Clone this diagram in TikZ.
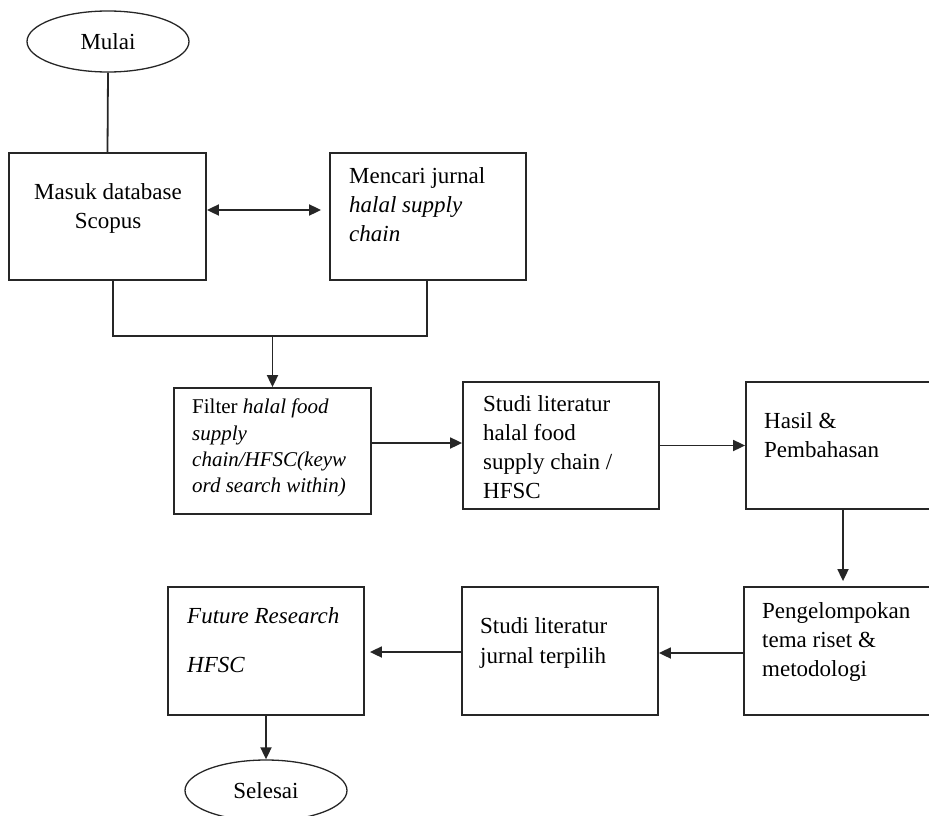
\documentclass[tikz,border=0pt]{standalone}
\usepackage{fontspec}
\setmainfont{Liberation Serif}
\usetikzlibrary{arrows.meta,shapes.geometric,calc}
\begin{document}
\begin{tikzpicture}[x=1pt,y=-1pt,
  box/.style={draw=black!85, line width=1.8pt, rectangle, inner sep=0pt},
  term/.style={draw=black!85, line width=1.3pt, ellipse, minimum width=162pt, minimum height=61pt, inner sep=0pt, font=\fontsize{23}{28}\selectfont},
  txt/.style={anchor=north west, align=left, inner sep=0pt, font=\fontsize{23}{29}\selectfont},
  conn/.style={line width=1.8pt, draw=black!85},
  tip/.tip={Triangle[length=12pt,width=11pt]},
  arr/.style={conn, -tip}
]
\useasboundingbox (0,0) rectangle (929,816);

% terminals
\node[term] (mulai) at (108,41.5) {Mulai};
\node[term] (selesai) at (266,790.5) {Selesai};

% boxes
\node[box, minimum width=197pt, minimum height=127pt] (b1) at (107.5,216.5) {};
\node[box, minimum width=196pt, minimum height=127pt] (b2) at (428,216.5) {};
\node[box, minimum width=197pt, minimum height=126pt] (b3) at (272.5,451) {};
\node[box, minimum width=196pt, minimum height=127pt] (b4) at (561,445.5) {};
\node[box, minimum width=204pt, minimum height=127pt] (b5) at (848,445.5) {};
\node[box, minimum width=206pt, minimum height=128pt] (b6) at (847,651) {};
\node[box, minimum width=196pt, minimum height=128pt] (b7) at (560,651) {};
\node[box, minimum width=196pt, minimum height=128pt] (b8) at (266,651) {};

% texts
\node[txt, anchor=north, align=center] (t1) at (108,183) {Masuk database\\Scopus};
\node[txt] (t2) at (349,167) {Mencari jurnal\\\textit{halal supply}\\\textit{chain}};
\node[txt, font=\fontsize{21}{26.3}\selectfont] (t3) at (192,399) {Filter \textit{halal food}\\\textit{supply}\\\textit{chain/HFSC(keyw}\\\textit{ord search within)}};
\node[txt] (t4) at (483,395) {Studi literatur\\halal food\\supply chain /\\HFSC};
\node[txt] (t5) at (764,412) {Hasil \&\\Pembahasan};
\node[txt] (t6) at (762,602) {Pengelompokan\\tema riset \&\\metodologi};
\node[txt, font=\fontsize{23}{30}\selectfont] (t7) at (480,617) {Studi literatur\\jurnal terpilih};
\node[txt, font=\fontsize{23}{49}\selectfont] (t8) at (187,607) {\textit{Future Research}\\\textit{HFSC}};

% connectors
\draw[conn] (mulai.south) -- (b1.north);
\coordinate (ya) at (0,210);
\draw[conn, tip-tip] (b1.east |- ya) -- ($(b2.west |- ya)+(-8,0)$);
\coordinate (jl) at (113,336);
\coordinate (jr) at (427,336);
\draw[conn] (b1.south -| jl) -- (jl) -- (jr) -- (b2.south -| jr);
\draw[arr] (b3.north |- jl) -- (b3.north);
\coordinate (yf) at (0,443);
\draw[arr] (b3.east |- yf) -- (b4.west |- yf);
\draw[arr] (b4.east) -- (b5.west |- b4.east);
\coordinate (xd) at (843,0);
\draw[arr] (b5.south -| xd) -- ($(b6.north -| xd)+(0,-5)$);
\coordinate (yg) at (0,653);
\draw[arr] (b6.west |- yg) -- (b7.east |- yg);
\coordinate (yh) at (0,652);
\draw[arr] (b7.west |- yh) -- ($(b8.east |- yh)+(5,0)$);
\draw[arr] (b8.south) -- (selesai.north);
\end{tikzpicture}
\end{document}
